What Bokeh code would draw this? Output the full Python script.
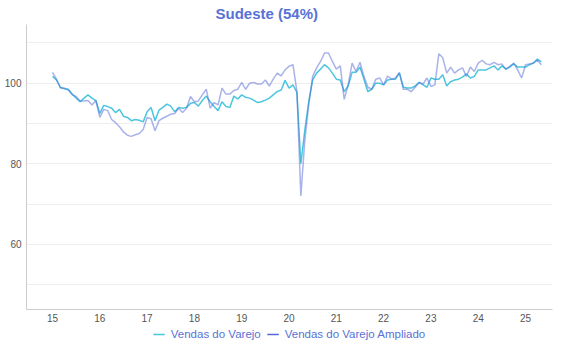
from bokeh.plotting import figure
from bokeh.layouts import column
from bokeh.models import FixedTicker, Legend, LegendItem, Range1d
from bokeh.embed import file_html
from bokeh.resources import INLINE

start_year = 2015
title_text = "Sudeste (54%)"
series_names = ["Vendas do Varejo", "Vendas do Varejo Ampliado"]

varejo = [
    101.7, 100.8, 99.0, 98.6, 98.5, 97.3, 96.3, 95.4, 96.3, 97.1, 96.3, 95.7,
    92.5, 94.5, 94.2, 93.8, 92.7, 93.5, 91.8, 91.5, 90.7, 91.0, 90.8, 90.4,
    92.9, 94.0, 90.7, 93.3, 94.0, 94.8, 94.3, 92.9, 94.0, 93.8, 94.0, 95.0,
    95.2, 94.3, 95.7, 96.8, 95.4, 94.2, 93.2, 95.4, 94.2, 94.0, 96.8, 96.1,
    97.1, 96.5, 96.3, 95.8, 95.2, 95.4, 95.8, 96.3, 97.1, 97.9, 98.3, 100.7,
    98.8, 99.6, 97.7, 80.0, 88.3, 95.4, 100.8, 102.5, 103.5, 104.6, 103.8, 102.5,
    101.0, 100.8, 97.9, 99.3, 102.7, 102.7, 104.0, 101.0, 97.9, 98.5, 100.0, 100.0,
    99.6, 100.8, 101.0, 101.0, 102.5, 99.0, 98.8, 98.8, 99.3, 100.2, 99.6, 99.0,
    101.3, 101.0, 101.0, 102.1, 99.3, 100.4, 100.8, 101.0, 101.5, 102.3, 101.3, 101.7,
    103.3, 103.3, 103.3, 103.8, 104.3, 103.3, 104.3, 103.5, 104.0, 104.8, 104.0, 104.0,
    104.0, 104.6, 105.0, 106.0, 105.3,
]

ampliado = [
    102.7, 101.0, 98.8, 98.8, 98.3, 97.1, 96.7, 95.6, 95.6, 95.7, 94.6, 95.7,
    91.5, 93.5, 93.2, 91.0, 90.2, 89.2, 87.9, 87.1, 86.8, 87.2, 87.5, 88.5,
    91.5, 91.2, 88.2, 90.7, 91.3, 91.8, 92.3, 92.5, 93.8, 92.7, 93.8, 96.7,
    95.4, 95.6, 97.1, 98.5, 93.8, 95.2, 94.6, 98.8, 97.3, 97.3, 98.2, 98.5,
    100.2, 98.5, 100.0, 100.2, 99.8, 99.8, 100.8, 99.3, 101.0, 102.5, 101.8, 103.3,
    104.2, 104.6, 98.0, 72.0, 85.8, 94.6, 101.7, 103.8, 105.4, 107.5, 107.5, 105.4,
    103.5, 104.3, 96.0, 99.6, 105.0, 102.9, 105.2, 101.7, 99.0, 98.5, 101.0, 101.3,
    99.6, 101.8, 101.0, 101.3, 102.7, 98.5, 98.5, 97.9, 99.0, 100.2, 99.8, 101.3,
    99.2, 99.6, 107.3, 106.3, 102.5, 104.0, 102.5, 103.3, 103.8, 101.7, 104.0, 102.9,
    105.0, 105.7, 104.8, 104.6, 105.2, 104.6, 104.8, 103.5, 104.2, 105.0, 103.3, 101.3,
    104.6, 104.8, 105.0, 105.7, 104.6,
]

year_ticks = list(range(2015, 2026))
year_labels = ["15", "16", "17", "18", "19", "20", "21", "22", "23", "24", "25"]
y_label_ticks = [60, 80, 100]
y_grid_ticks = [50, 60, 70, 80, 90, 100, 110]

x = [start_year + i / 12 for i in range(len(varejo))]

CYAN = "#4cc6df"
BLUE = "#5368d6"
TEXT_BLUE = "#5872d6"
FONT = "Liberation Sans"

p = figure(width=554, height=324, output_backend="svg", toolbar_location=None,
           x_range=Range1d(2014.45, 2025.57), y_range=Range1d(43.825, 114.575),
           min_border_left=22, min_border_right=2, min_border_bottom=0,
           min_border_top=0)
p.title.text = title_text
p.title.align = "left"
p.title.offset = 189
p.title.standoff = 5
p.title.text_font = FONT
p.title.text_font_size = "15px"
p.title.text_font_style = "bold"
p.title.text_color = TEXT_BLUE
p.outline_line_color = None

p.line(x, varejo, line_color=CYAN, line_width=1.5)
p.line(x, ampliado, line_color=BLUE, line_alpha=0.5, line_width=1.5)

p.xaxis.ticker = FixedTicker(ticks=year_ticks)
p.xaxis.major_label_overrides = {yr: lab for yr, lab in zip(year_ticks, year_labels)}
p.yaxis.ticker = FixedTicker(ticks=y_label_ticks)
for ax in (p.xaxis, p.yaxis):
    ax.axis_line_color = "#cccccc"
    ax.major_tick_line_color = None
    ax.minor_tick_line_color = None
    ax.major_tick_out = 0
    ax.major_tick_in = 0
    ax.minor_tick_out = 0
    ax.minor_tick_in = 0
    ax.major_label_text_font = FONT
    ax.major_label_text_font_size = "10px"
    ax.major_label_text_color = "#555555"
p.xaxis.major_label_standoff = 4
p.yaxis.major_label_standoff = 5

p.xgrid.grid_line_color = None
p.ygrid.ticker = FixedTicker(ticks=y_grid_ticks)
p.ygrid.grid_line_color = "#eeeeee"

# separate strip holding the legend
lg = figure(width=554, height=20, output_backend="svg", toolbar_location=None,
            x_range=Range1d(0, 1), y_range=Range1d(0, 1),
            x_axis_type=None, y_axis_type=None,
            min_border_left=26, min_border_right=0, min_border_top=0, min_border_bottom=0)
lg.outline_line_color = None
lg.grid.visible = False
nan = float("nan")
d1 = lg.line([0, 1], [nan, nan], line_color=CYAN, line_width=1.5)
d2 = lg.line([0, 1], [nan, nan], line_color=BLUE, line_width=1.5)

legend = Legend(items=[LegendItem(label=series_names[0], renderers=[d1]),
                       LegendItem(label=series_names[1], renderers=[d2])],
                orientation="horizontal", location="center",
                label_text_font=FONT, label_text_font_size="11.5px",
                label_text_color=TEXT_BLUE, glyph_width=12, glyph_height=12,
                label_height=12, label_width=10,
                label_standoff=6, spacing=6, border_line_color=None,
                background_fill_alpha=0, padding=0, margin=0)
lg.add_layout(legend)

layout = column(p, lg, spacing=0)
open("out.html", "w").write(file_html(layout, INLINE))
